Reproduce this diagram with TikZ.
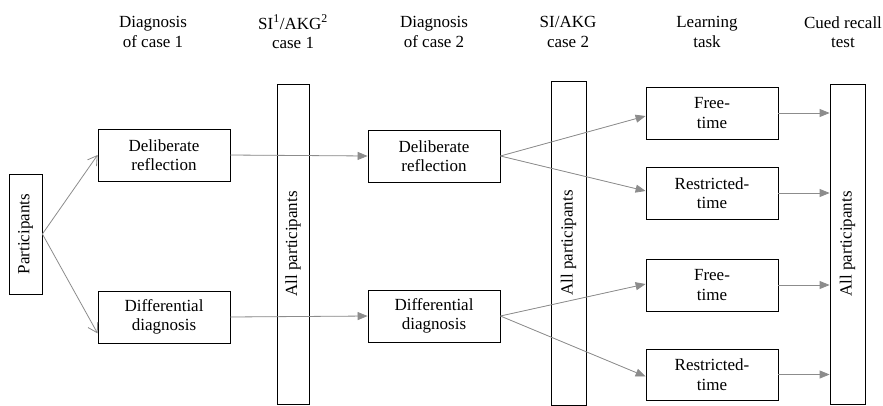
\documentclass[tikz,border=0pt]{standalone}
\usepackage{fontspec}
\setmainfont{Liberation Serif}
\newfontfamily\timesfont{Liberation Serif}
\usepackage{tikz}
\usetikzlibrary{calc, positioning}
\usetikzlibrary{arrows.meta}
\tikzset{>={Triangle[length=10pt,width=8pt]}}

\begin{document}
\begin{tikzpicture}[x=1pt, y=-1pt,
		every node/.style={font=\timesfont\fontsize{17}{19.5}\selectfont},
		box/.style={draw, thick, rectangle, minimum width=132pt, minimum height=52pt, align=center, inner sep=0pt},
		colbox/.style={draw, thick, rectangle, rotate=90, minimum height=33pt, inner sep=0pt},
		head/.style={align=center, inner sep=0pt},
		flow/.style={->, draw=gray!90, fill=gray!90, thick},
		split/.style={-{Straight Barb[length=9pt,width=11pt]}, draw=gray!90, thick}]
			\useasboundingbox (0,0) rectangle (883,405);
			% column headings
			\node[head] (h1) at (153,32) {Diagnosis\\of case 1};
			\node[head] (h2) at (293,32) {SI\textsuperscript{1}/AKG\textsuperscript{2}\\case 1};
			\node[head] (h3) at (434,32) {Diagnosis\\of case 2};
			\node[head] (h4) at (568,32) {SI/AKG\\case 2};
			\node[head] (h5) at (707,32) {Learning\\task};
			\node[head] (h6) at (843,32) {Cued recall\\test};
			% boxes
			\node[colbox, minimum width=120pt] (part) at (25.5,234) {Participants};
			\node[box] (dr1) at (164,155) {Deliberate\\reflection};
			\node[box] (dd1) at (164,317) {Differential\\diagnosis};
			\node[colbox, minimum width=320pt, minimum height=32pt] (col1) at (293,244) {All participants};
			\node[box] (dr2) at (434,156) {Deliberate\\reflection};
			\node[box] (dd2) at (434,316) {Differential\\diagnosis};
			\node[colbox, minimum width=324pt, minimum height=35pt] (col2) at (568.5,243) {All participants};
			\node[box] (ft1) at (712,113) {Free-\\time};
			\node[box] (rt1) at (712,193) {Restricted-\\time};
			\node[box] (ft2) at (712,285) {Free-\\time};
			\node[box, minimum height=51pt] (rt2) at (712,374.5) {Restricted-\\time};
			\node[colbox, minimum width=320pt, minimum height=35pt] (col3) at (847.5,244) {All participants};
			% arrows
			\draw[split] (part.south) -- (dr1.west);
			\draw[split] (part.south) -- ([yshift=10pt]dd1.south west);
			\draw[flow] (dr1.east) -- (dr2.west);
			\draw[flow] (dd1.east) -- (dd2.west);
			\draw[flow] (dr2.east) -- ([yshift=-3pt]ft1.west);
			\draw[flow] (dr2.east) -- ([yshift=2pt]rt1.west);
			\draw[flow] (dd2.east) -- ([yshift=1pt]ft2.west);
			\draw[flow] (dd2.east) -- ([yshift=-2pt]rt2.west);
			\foreach \b in {ft1, rt1, ft2, rt2}
				\draw[flow] (\b.east) -- (\b.east -| col3.north);
		\end{tikzpicture}
\end{document}
